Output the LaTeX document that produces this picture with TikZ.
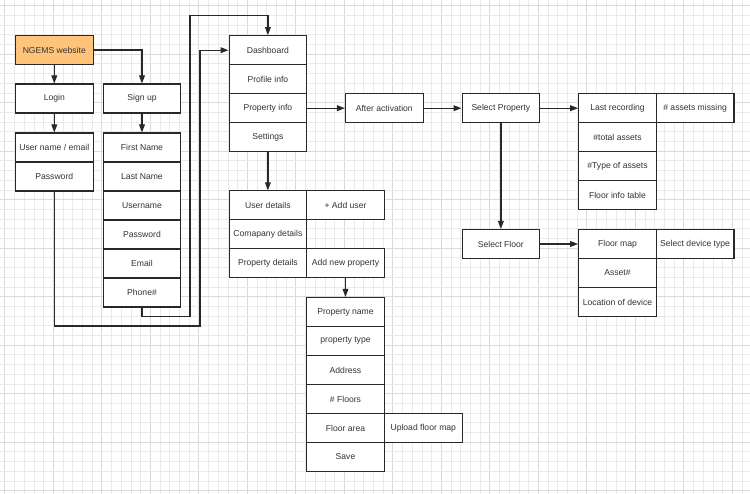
\documentclass[tikz,border=0pt]{standalone}
\usepackage{fontspec}
\setmainfont{Liberation Sans}
\usetikzlibrary{arrows.meta}
\definecolor{ngems}{RGB}{255,196,122}
\definecolor{ink}{RGB}{40,40,40}
\definecolor{txt}{RGB}{51,51,51}
\definecolor{gridminor}{RGB}{234,234,234}
\definecolor{gridmajor}{RGB}{218,218,218}
\begin{document}
\begin{tikzpicture}[x=1pt,y=-1pt,
  cell/.style={draw=ink, line width=1.2pt, fill=white, minimum width=77.6pt, minimum height=29pt,
    inner sep=0pt, text=txt, font=\fontsize{8.6}{10}\selectfont, anchor=center},
  conn/.style={draw=ink, line width=1.2pt},
  arr/.style={conn, -{Triangle[length=8pt,width=5.8pt]}}]
\useasboundingbox (0,0) rectangle (750,494);
\fill[white] (0,0) rectangle (750,494);
% grid
\foreach \i in {0,...,77} {
  \pgfmathsetmacro{\gx}{4.7+9.7*\i}
  \pgfmathtruncatemacro{\m}{mod(\i,5)}
  \ifnum\m=0 \draw[gridmajor, line width=0.6pt] (\gx,0) -- (\gx,494);
  \else \draw[gridminor, line width=0.5pt] (\gx,0) -- (\gx,494); \fi
}
\foreach \j in {0,...,50} {
  \pgfmathsetmacro{\gy}{5.5+9.7*\j}
  \pgfmathtruncatemacro{\m}{mod(\j,5)}
  \ifnum\m=0 \draw[gridmajor, line width=0.6pt] (0,\gy) -- (750,\gy);
  \else \draw[gridminor, line width=0.5pt] (0,\gy) -- (750,\gy); \fi
}
% left column
\node[cell, fill=ngems] (ngems) at (54.3,50) {NGEMS website};
\node[cell] (login) at (54.3,98.5) {Login};
\node[cell] (signup) at (142,98.5) {Sign up};
\node[cell] (uname) at (54.3,147.5) {User name / email};
\node[cell] (pw1) at (54.3,176.5) {Password};
\node[cell] (first) at (142,147.5) {First Name};
\node[cell] (last) at (142,176.5) {Last Name};
\node[cell] (user) at (142,205.5) {Username};
\node[cell] (pw2) at (142,234.5) {Password};
\node[cell] (email) at (142,263.5) {Email};
\node[cell] (phone) at (142,292.5) {Phone\#};
% dashboard
\node[cell] (dash) at (267.9,50.2) {Dashboard};
\node[cell] (prof) at (267.9,79.2) {Profile info};
\node[cell] (pinfo) at (267.9,108.2) {Property info};
\node[cell] (sett) at (267.9,137.2) {Settings};
% settings
\node[cell] (udet) at (267.9,205.4) {User details};
\node[cell] (cdet) at (267.9,234.4) {Comapany details};
\node[cell] (pdet) at (267.9,263.4) {Property details};
\node[cell] (adduser) at (345.5,205.4) {+ Add user};
\node[cell] (addprop) at (345.5,263.4) {Add new property};
% new property
\node[cell] (pname) at (345.5,312) {Property name};
\node[cell] (ptype) at (345.5,341) {property type};
\node[cell] (addr) at (345.5,370) {Address};
\node[cell] (floors) at (345.5,399) {\# Floors};
\node[cell] (farea) at (345.5,428) {Floor area};
\node[cell] (save) at (345.5,457) {Save};
\node[cell] (upload) at (423.3,428) {Upload floor map};
% property flow
\node[cell] (after) at (384.3,108.2) {After activation};
\node[cell] (selprop) at (500.9,108.2) {Select Property};
\node[cell] (lastrec) at (617.5,108.2) {Last recording};
\node[cell] (missing) at (695.1,108.2) {\# assets missing};
\node[cell] (total) at (617.5,137.2) {\#total assets};
\node[cell] (types) at (617.5,166.2) {\#Type of assets};
\node[cell] (ftable) at (617.5,195.2) {Floor info table};
\node[cell] (selfloor) at (500.9,244) {Select Floor};
\node[cell] (fmap) at (617.5,244) {Floor map};
\node[cell] (devtype) at (695.1,244) {Select device type};
\node[cell] (asset) at (617.5,273) {Asset\#};
\node[cell] (loc) at (617.5,302) {Location of device};
% connectors
\coordinate (lA) at (200,326);
\coordinate (lB) at (190,316.7);
\coordinate (lC) at (267.9,15.7);
\draw[arr] (ngems) -- (login);
\draw[arr] (ngems.east) -| (signup.north);
\draw[arr] (login) -- (uname);
\draw[arr] (signup) -- (first);
\draw[arr] (pw1.south) |- (lA) |- (dash.west);
\draw[arr] (phone.south) |- (lB) |- (lC) -- (dash.north);
\draw[arr] (sett) -- (udet);
\draw[arr] (addprop) -- (pname);
\draw[arr] (pinfo) -- (after);
\draw[arr] (after) -- (selprop);
\draw[arr] (selprop) -- (lastrec);
\draw[arr] (selprop) -- (selfloor);
\draw[arr] (selfloor) -- (fmap);
\end{tikzpicture}
\end{document}
